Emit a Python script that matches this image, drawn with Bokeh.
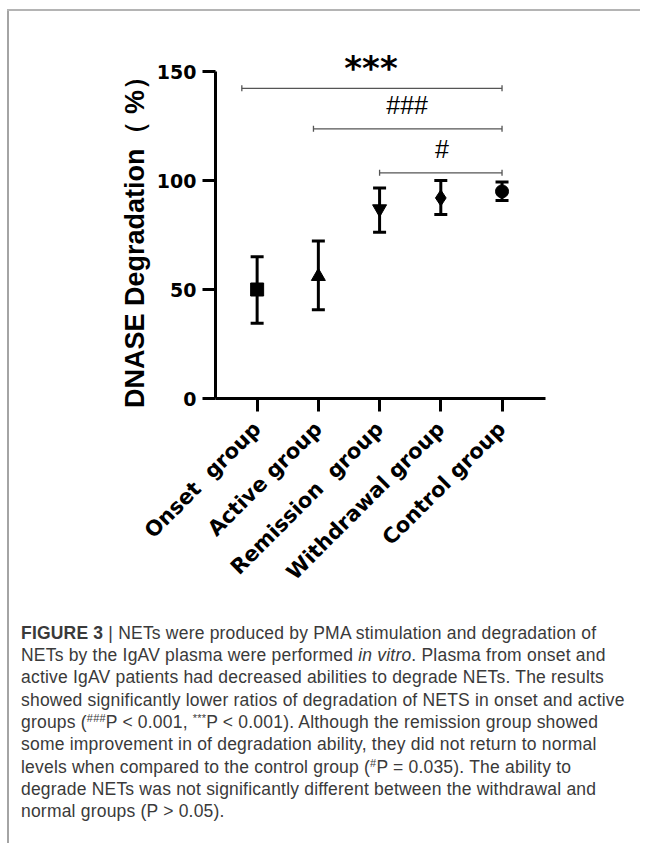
import math
from bokeh.plotting import figure
from bokeh.layouts import column, row
from bokeh.models import ColumnDataSource, Whisker, TeeHead, FixedTicker, Div
from bokeh.core.properties import value
from bokeh.embed import file_html
from bokeh.resources import INLINE

# ---------------- data ----------------
groups = ["Onset  group", "Active group", "Remission  group", "Withdrawal group", "Control group"]
group_pos = [1, 2, 3, 4, 5]
means = [50.0, 56.0, 87.0, 92.0, 95.0]
err_upper = [65.0, 72.2, 96.6, 100.0, 99.3]
err_lower = [34.5, 40.7, 76.3, 84.4, 90.8]
y_ticks = [0, 50, 100, 150]
y_title = "DNASE Degradation（ %）"

sig_start = [0.75, 1.92, 3.0]
sig_end = [5.0, 5.0, 5.0]
sig_level = [142.3, 123.7, 103.5]
sig_text = ["***", "###", "#"]
sig_text_x = [2.86, 3.45, 4.02]

caption_lines = [
    "<b>FIGURE 3</b> | NETs were produced by PMA stimulation and degradation of",
    "NETs by the IgAV plasma were performed <i>in vitro</i>. Plasma from onset and",
    "active IgAV patients had decreased abilities to degrade NETs. The results",
    "showed significantly lower ratios of degradation of NETS in onset and active",
    "groups (<sup>###</sup>P &lt; 0.001, <sup>***</sup>P &lt; 0.001). Although the remission group showed",
    "some improvement in of degradation ability, they did not return to normal",
    "levels when compared to the control group (<sup>#</sup>P = 0.035). The ability to",
    "degrade NETs was not significantly different between the withdrawal and",
    "normal groups (P &gt; 0.05).",
]

# ---------------- styles ----------------
marker_types = ["square", "triangle", "inverted_triangle", "diamond", "circle"]
marker_sizes = [13, 14, 14, 16, 13]

# ---------------- layout (page pixels, page origin at 0,0) ----------------
OFF_X, OFF_Y = 7, 9          # position of the grey frame lines
BAR = 2
ORG_X, ORG_Y = OFF_X + BAR, OFF_Y + BAR       # page origin of the chart figure
W1, H1 = 630, 600
H2 = 232
FR_L, FR_R, FR_T, FR_B = 215, 545, 45, 398     # frame in page px
PX_PER_Y = 2.18
X0, X1 = 0.32, 5.71
Y1 = (FR_B - FR_T) / PX_PER_Y

p = figure(width=W1, height=H1, x_range=(X0, X1), y_range=(0, Y1),
           output_backend="svg", toolbar_location=None,
           min_border_left=FR_L - ORG_X, min_border_right=W1 - (FR_R - ORG_X),
           min_border_top=FR_T - ORG_Y, min_border_bottom=H1 - (FR_B - ORG_Y))
p.outline_line_color = None
p.grid.visible = False

for ax in (p.xaxis[0], p.yaxis[0]):
    ax.axis_line_width = 3
    ax.axis_line_color = "black"
    ax.major_tick_line_width = 3
    ax.major_tick_line_color = "black"
    ax.major_tick_out = 13
    ax.major_tick_in = 0
    ax.minor_tick_line_color = None
    ax.major_label_text_font = "DejaVu Sans"
    ax.major_label_text_font_style = "bold"
    ax.major_label_text_color = "black"

p.yaxis.ticker = FixedTicker(ticks=y_ticks)
p.yaxis.bounds = (0, 150)
p.yaxis.major_label_text_font_size = "19px"
p.yaxis.major_label_standoff = 6
# a trailing ideographic space moves the centred title down onto the 0-150 span
p.yaxis.axis_label = y_title + "\u3000"
p.yaxis.axis_label_text_font = "Liberation Sans"
p.yaxis.axis_label_text_font_style = "bold"
p.yaxis.axis_label_text_font_size = "27px"
p.yaxis.axis_label_text_color = "black"
p.yaxis.axis_label_standoff = 4

p.xaxis.ticker = FixedTicker(ticks=group_pos)
# keep the double spaces visible in the SVG text
p.xaxis.major_label_overrides = {k: g.replace("  ", "\u00a0 ") for k, g in zip(group_pos, groups)}
p.xaxis.major_label_orientation = math.pi / 4
p.xaxis.major_label_text_font_size = "21px"
p.xaxis.major_label_standoff = 14

src = ColumnDataSource(dict(x=group_pos, y=means, upper=err_upper, lower=err_lower,
                            marker=marker_types, size=marker_sizes))

whisk = Whisker(source=src, base="x", upper="upper", lower="lower",
                line_width=3, line_color="black",
                upper_head=TeeHead(size=13, line_width=3, line_color="black"),
                lower_head=TeeHead(size=13, line_width=3, line_color="black"))
p.add_layout(whisk)

p.scatter("x", "y", marker="marker", size="size", source=src,
          fill_color="black", line_color="black", line_width=1)

# significance brackets
p.segment(x0=sig_start, y0=sig_level, x1=sig_end, y1=sig_level,
          line_color="#555555", line_width=1.3)
p.scatter(x=sig_start + sig_end, y=sig_level + sig_level, marker="dash", angle=math.pi / 2,
          size=6, line_color="#555555", line_width=1.3)


def yd(py):
    return (FR_B - py) / PX_PER_Y


p.text(x=[sig_text_x[0]], y=[yd(67)], text=[sig_text[0]],
       text_font=value("DejaVu Sans"), text_font_style="bold", text_font_size="34px",
       text_align="center", text_baseline="middle", text_color="black")
p.text(x=sig_text_x[1:], y=[yd(104), yd(148)], text=sig_text[1:],
       text_font=value("Liberation Sans"), text_font_size="25px",
       text_align="center", text_baseline="middle", text_color="black")

# ---------------- caption ----------------
CAP_SIZE = 17.5
CAP_LH = 22.3
CAP_FIRST_BASE = 639
CAP_LEFT = 21
half_lead = (CAP_LH - 1.117 * CAP_SIZE) / 2
pad_top = CAP_FIRST_BASE - (ORG_Y + H1) - (half_lead + 0.905 * CAP_SIZE)
pad_left = CAP_LEFT - ORG_X
sup_style = "font-size:11px;line-height:0;vertical-align:6.5px"
html = (f"<div style=\"font-family:'Liberation Sans',Arial,sans-serif;font-size:{CAP_SIZE}px;"
        f"line-height:{CAP_LH}px;color:#3a3a3a;white-space:nowrap;letter-spacing:0.2px;"
        f"padding:{pad_top:.1f}px 0 0 {pad_left}px;margin:0\">"
        + "<br>".join(caption_lines).replace("<sup>", f"<sup style=\"{sup_style}\">")
        + "</div>")
caption = Div(text=html, width=W1, height=H2, margin=0)

top_spacer = Div(text="", width=640, height=OFF_Y, margin=0)
left_spacer = Div(text="", width=OFF_X, height=BAR + H1 + H2, margin=0)
top_bar = Div(text="", width=640 - OFF_X, height=BAR, margin=0,
              styles={"background-color": "#b4b4b4"})
left_bar = Div(text="", width=BAR, height=H1 + H2, margin=0,
               styles={"background-color": "#a4a4a4"})

layout = column(top_spacer,
                row(left_spacer,
                    column(top_bar,
                           row(left_bar, column(p, caption, spacing=0), spacing=0),
                           spacing=0),
                    spacing=0),
                spacing=0)

open("out.html", "w").write(file_html(layout, INLINE))
